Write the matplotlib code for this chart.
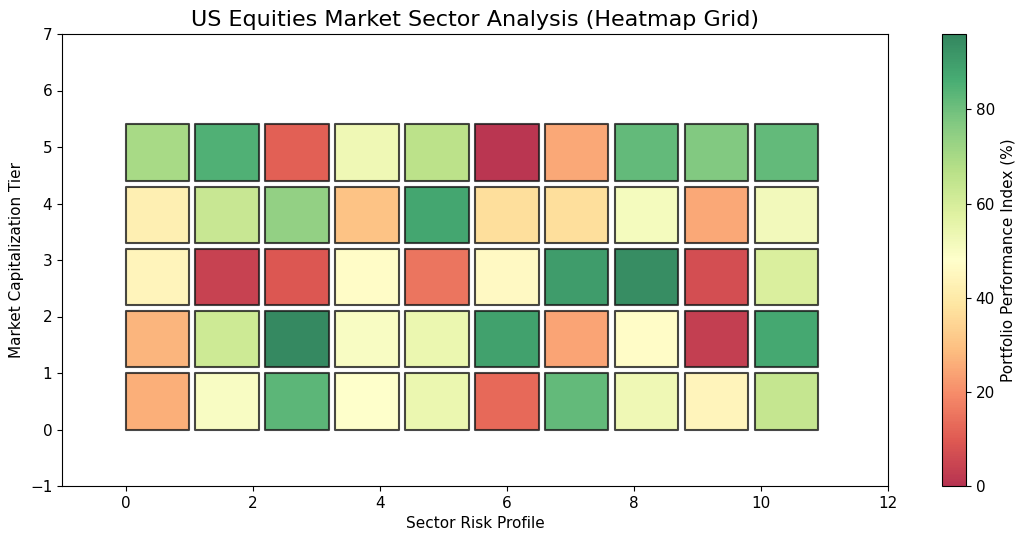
import numpy as np
import matplotlib
matplotlib.use("Agg")
import matplotlib.pyplot as plt
from matplotlib.patches import Rectangle
from matplotlib.collections import PatchCollection
from matplotlib.colors import Normalize

# Columns: sector risk profile index; rows: market cap tier (bottom to top)
n_cols = 10
n_rows = 5
# Performance values, row 0 = bottom row
row0 = [26, 50, 83, 48, 54, 13, 82, 53, 44, 64]
row1 = [27, 62, 95, 50, 54, 89, 24, 47, 3, 87]
row2 = [44, 4, 9, 47, 15, 46, 90, 94, 7, 59]
row3 = [42, 63, 74, 30, 88, 37, 37, 51, 25, 52]
row4 = [70, 85, 11, 53, 66, 1, 25, 82, 77, 82]
values = np.array([row0, row1, row2, row3, row4], dtype=float)

cell = 1.0
gap = 0.1

fig = plt.figure(figsize=(10.24, 5.38), dpi=100)
ax = fig.add_axes([62/1024, 1-486/538, (888-62)/1024, (486-34)/538])
cax = fig.add_axes([942/1024, 1-486/538, (966-942)/1024, (486-34)/538])

patches = []
vals = []
for r in range(n_rows):
    for c in range(n_cols):
        patches.append(Rectangle((c*(cell+gap), r*(cell+gap)), cell, cell))
        vals.append(values[r, c])

pc = PatchCollection(patches, cmap='RdYlGn', norm=Normalize(0, 96),
                     edgecolor='#1a1a1a', linewidth=1.5, alpha=0.8)
pc.set_array(np.array(vals))
ax.add_collection(pc)

ax.set_xlim(-1, 12)
ax.set_ylim(-1, 7)
ax.set_xticks(range(0, 13, 2))
ax.set_yticks(range(-1, 8))
ax.tick_params(labelsize=11)
ax.set_xlabel('Sector Risk Profile', fontsize=11)
ax.set_ylabel('Market Capitalization Tier', fontsize=11)
ax.set_title('US Equities Market Sector Analysis (Heatmap Grid)', fontsize=16)

cb = fig.colorbar(pc, cax=cax)
cb.set_label('Portfolio Performance Index (%)', fontsize=11)
cb.ax.tick_params(labelsize=11)

fig.savefig('out.png', dpi=100)
